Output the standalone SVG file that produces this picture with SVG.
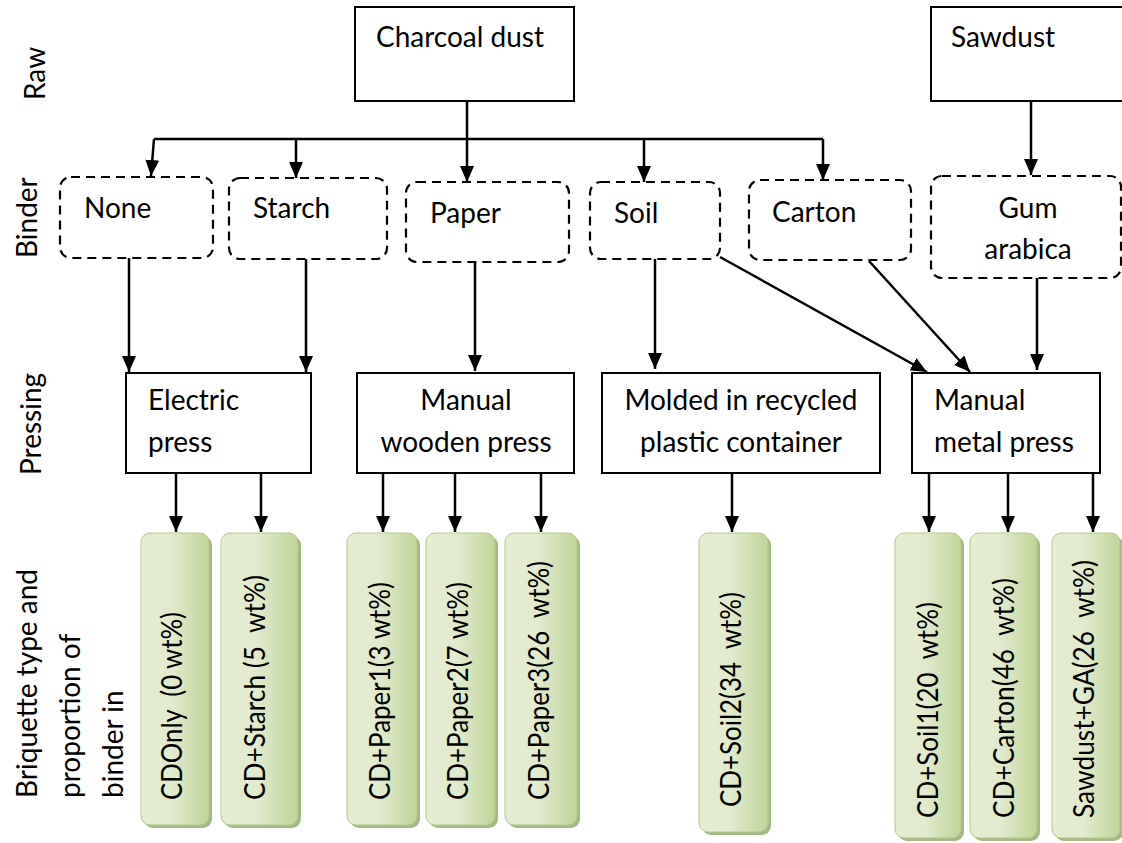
<svg xmlns="http://www.w3.org/2000/svg" width="1122" height="843" viewBox="0 0 1122 843">
<defs>
<style>
text{font-family:Lato,"Open Sans",sans-serif;font-size:28px;fill:#000;white-space:pre}
.gt{font-size:28px}
.box{fill:#fff;stroke:#000;stroke-width:2}
.dash{fill:#fff;stroke:#000;stroke-width:2.2;stroke-dasharray:9 6}
.con line{stroke:#000;stroke-width:2.5;marker-end:url(#ah)}
.con .plain{marker-end:none}
.g{fill:url(#gg);stroke:#b3c98a;stroke-width:1}
.sh{fill:#a5b888}
.mid{text-anchor:middle}
</style>
<marker id="ah" markerUnits="userSpaceOnUse" markerWidth="16" markerHeight="14" refX="16" refY="7" orient="auto">
<path d="M0,0 L16,7 L0,14 z" fill="#000"/>
</marker>
<linearGradient id="gg" x1="0" y1="0" x2="1" y2="0">
<stop offset="0" stop-color="#e4edd2"/>
<stop offset="0.45" stop-color="#e2ebcf"/>
<stop offset="1" stop-color="#c0d498"/>
</linearGradient>
</defs>

<g id="labels">
<text transform="translate(45,100) rotate(-90)">Raw</text>
<text transform="translate(37,258) rotate(-90)">Binder</text>
<text transform="translate(41,475) rotate(-90)">Pressing</text>
<text transform="translate(37,798) rotate(-90)">Briquette type and</text>
<text transform="translate(80,798) rotate(-90)">proportion of</text>
<text transform="translate(123,798) rotate(-90)">binder in</text>
</g>

<g id="charcoal"><rect class="box" x="355" y="7" width="219" height="94"/><text x="376" y="47">Charcoal dust</text></g>
<g id="sawdust"><rect class="box" x="931" y="7" width="200" height="94"/><text x="951" y="47">Sawdust</text></g>

<g id="none"><rect class="dash" x="60" y="177" width="153" height="81" rx="11"/><text x="84" y="218">None</text></g>
<g id="starch"><rect class="dash" x="229" y="178" width="158" height="81" rx="11"/><text x="253" y="218">Starch</text></g>
<g id="paper"><rect class="dash" x="406" y="182" width="163" height="80" rx="11"/><text x="430" y="223">Paper</text></g>
<g id="soil"><rect class="dash" x="590" y="182" width="130" height="77" rx="11"/><text x="614" y="223">Soil</text></g>
<g id="carton"><rect class="dash" x="749" y="180" width="162" height="80" rx="11"/><text x="772" y="222">Carton</text></g>
<g id="gum"><rect class="dash" x="931" y="176" width="190" height="102" rx="11"/><text class="mid" x="1028" y="218">Gum</text><text class="mid" x="1028" y="259">arabica</text></g>

<g id="electric"><rect class="box" x="126" y="373" width="185" height="100"/><text x="148" y="410">Electric</text><text x="148" y="452">press</text></g>
<g id="wooden"><rect class="box" x="357" y="373" width="217" height="100"/><text class="mid" x="466" y="410">Manual</text><text class="mid" x="466" y="452">wooden press</text></g>
<g id="molded"><rect class="box" x="602" y="373" width="278" height="100"/><text class="mid" x="741" y="410">Molded in recycled</text><text class="mid" x="741" y="452">plastic container</text></g>
<g id="metal"><rect class="box" x="912" y="373" width="188" height="100"/><text x="934" y="410">Manual</text><text x="934" y="452">metal press</text></g>

<g id="b1"><rect class="sh" x="144" y="536" width="68" height="292" rx="9"/><rect class="g" x="141" y="533" width="68" height="292" rx="9"/><text class="gt" textLength="188" lengthAdjust="spacingAndGlyphs" transform="translate(182,800) rotate(-90)">CDOnly  (0 wt%)</text></g>
<g id="b2"><rect class="sh" x="224" y="536" width="77" height="292" rx="9"/><rect class="g" x="221" y="533" width="77" height="292" rx="9"/><text class="gt" textLength="225" lengthAdjust="spacingAndGlyphs" transform="translate(265,800) rotate(-90)">CD+Starch (5  wt%)</text></g>
<g id="b3"><rect class="sh" x="350" y="536" width="70" height="292" rx="9"/><rect class="g" x="347" y="533" width="70" height="292" rx="9"/><text class="gt" textLength="218" lengthAdjust="spacingAndGlyphs" transform="translate(390,800) rotate(-90)">CD+Paper1(3 wt%)</text></g>
<g id="b4"><rect class="sh" x="429" y="536" width="69" height="292" rx="9"/><rect class="g" x="426" y="533" width="69" height="292" rx="9"/><text class="gt" textLength="218" lengthAdjust="spacingAndGlyphs" transform="translate(468,800) rotate(-90)">CD+Paper2(7 wt%)</text></g>
<g id="b5"><rect class="sh" x="508" y="536" width="72" height="292" rx="9"/><rect class="g" x="505" y="533" width="72" height="292" rx="9"/><text class="gt" textLength="239" lengthAdjust="spacingAndGlyphs" transform="translate(549,800) rotate(-90)">CD+Paper3(26  wt%)</text></g>
<g id="b6"><rect class="sh" x="702" y="536" width="69" height="299" rx="9"/><rect class="g" x="699" y="533" width="69" height="299" rx="9"/><text class="gt" textLength="215" lengthAdjust="spacingAndGlyphs" transform="translate(741,807) rotate(-90)">CD+Soil2(34  wt%)</text></g>
<g id="b7"><rect class="sh" x="898" y="536" width="66" height="305" rx="9"/><rect class="g" x="895" y="533" width="66" height="305" rx="9"/><text class="gt" textLength="216" lengthAdjust="spacingAndGlyphs" transform="translate(938,818) rotate(-90)">CD+Soil1(20  wt%)</text></g>
<g id="b8"><rect class="sh" x="973" y="536" width="67" height="305" rx="9"/><rect class="g" x="970" y="533" width="67" height="305" rx="9"/><text class="gt" textLength="240" lengthAdjust="spacingAndGlyphs" transform="translate(1014,818) rotate(-90)">CD+Carton(46  wt%)</text></g>
<g id="b9"><rect class="sh" x="1055" y="536" width="68" height="305" rx="9"/><rect class="g" x="1052" y="533" width="68" height="305" rx="9"/><text class="gt" textLength="258" lengthAdjust="spacingAndGlyphs" transform="translate(1094,818) rotate(-90)">Sawdust+GA(26  wt%)</text></g>

<g id="connectors" class="con">
<line x1="467" y1="101" x2="467" y2="182"/>
<line class="plain" x1="154" y1="139" x2="823" y2="139"/>
<line x1="154" y1="139" x2="151" y2="176"/>
<line x1="296" y1="139" x2="296" y2="178"/>
<line x1="644" y1="139" x2="644" y2="182"/>
<line x1="823" y1="139" x2="823" y2="180"/>
<line x1="1031" y1="101" x2="1031" y2="175"/>
<line x1="129" y1="258" x2="129" y2="372"/>
<line x1="306" y1="259" x2="306" y2="372"/>
<line x1="475" y1="262" x2="475" y2="371"/>
<line x1="655" y1="259" x2="655" y2="369"/>
<line x1="720" y1="257" x2="927" y2="372"/>
<line x1="869" y1="261" x2="970" y2="372"/>
<line x1="1037" y1="278" x2="1037" y2="370"/>
<line x1="176" y1="473" x2="176" y2="532"/>
<line x1="261" y1="473" x2="261" y2="532"/>
<line x1="383" y1="473" x2="383" y2="532"/>
<line x1="455" y1="473" x2="455" y2="532"/>
<line x1="541" y1="473" x2="541" y2="532"/>
<line x1="732" y1="473" x2="732" y2="532"/>
<line x1="929" y1="473" x2="929" y2="532"/>
<line x1="1008" y1="473" x2="1008" y2="532"/>
<line x1="1093" y1="473" x2="1093" y2="532"/>
</g>
</svg>
